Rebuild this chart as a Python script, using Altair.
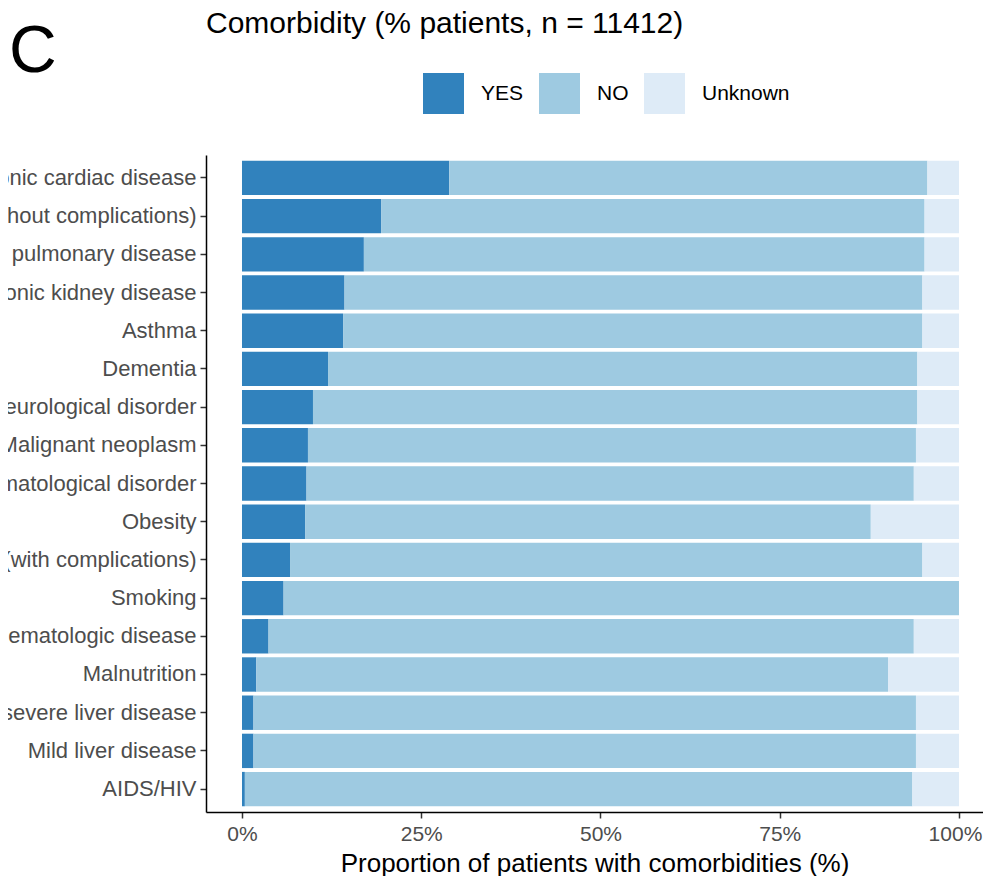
import altair as alt
import pandas as pd

categories = [
    "Chronic cardiac disease", "Diabetes (without complications)", "Chronic pulmonary disease",
    "Chronic kidney disease", "Asthma", "Dementia", "Chronic neurological disorder",
    "Malignant neoplasm", "Rheumatological disorder", "Obesity", "Diabetes (with complications)",
    "Smoking", "Chronic hematologic disease", "Malnutrition", "Moderate/severe liver disease",
    "Mild liver disease", "AIDS/HIV",
]
yes_pct = [28.9, 19.4, 17.0, 14.3, 14.1, 12.0, 9.9, 9.2, 9.0, 8.8, 6.7, 5.8, 3.7, 2.0, 1.6, 1.6, 0.4]
yes_no_cum = [95.6, 95.2, 95.2, 94.9, 94.9, 94.2, 94.2, 94.0, 93.7, 87.7, 94.9, 100.0, 93.7, 90.1, 94.0, 94.0, 93.5]
statuses = ["YES", "NO", "Unknown"]
colors = ["#3182bd", "#9ecae1", "#deebf7"]

rows = []
for c, y, cum in zip(categories, yes_pct, yes_no_cum):
    vals = [y, round(cum - y, 2), round(100 - cum, 2)]
    for i, (s, v) in enumerate(zip(statuses, vals)):
        rows.append({"Comorbidity": c, "Status": s, "Percent": v, "Order": i})
df = pd.DataFrame(rows)

FONT = "Liberation Sans"

bars = alt.Chart(df).mark_bar().encode(
    x=alt.X("Percent:Q", stack="zero",
            scale=alt.Scale(domain=[-5.02, 103.35], nice=False, zero=False),
            axis=alt.Axis(values=[0, 25, 50, 75, 100], labelExpr="datum.value + '%'",
                          title="Proportion of patients with comorbidities (%)",
                          grid=False, domainColor="black", domainWidth=1.5,
                          tickColor="#333333", tickWidth=1.5, tickSize=6,
                          labelFont=FONT, labelFontSize=21, labelColor="#4d4d4d",
                          labelOffset={"condition": {"test": "datum.value === 100", "value": -4},
                                       "value": 0},
                          labelPadding=5, titleFont=FONT, titleFontSize=26,
                          titleFontWeight="normal", titleColor="black", titlePadding=6)),
    y=alt.Y("Comorbidity:N", sort=categories,
            scale=alt.Scale(paddingInner=0.1, paddingOuter=0.15),
            axis=alt.Axis(title=None, grid=False, domainColor="black", domainWidth=1.5,
                          tickColor="#333333", tickWidth=1.5, tickSize=6,
                          labelFont=FONT, labelFontSize=22, labelColor="#4d4d4d",
                          labelPadding=4, labelLimit=0)),
    color=alt.Color("Status:N", sort=statuses,
                    scale=alt.Scale(domain=statuses, range=colors),
                    legend=alt.Legend(title=None, orient="none", legendX=217, legendY=-82,
                                      direction="horizontal", symbolType="square",
                                      symbolSize=1681, symbolStrokeWidth=0, symbolOpacity=1,
                                      labelFont=FONT, labelFontSize=21, labelColor="black",
                                      labelOffset=17, columnPadding=15, padding=0)),
    order=alt.Order("Order:Q"),
)

panel = alt.Chart(pd.DataFrame({"t": ["C"]})).mark_text(
    font=FONT, fontSize=66, align="left", baseline="alphabetic", color="black"
).encode(text="t:N", x=alt.value(-197), y=alt.value(-83))

chart = alt.layer(bars, panel).properties(
    width=777, height=657,
    background="white",
    autosize=alt.AutoSizeParams(type="none"),
    padding={"left": 198, "top": 147, "right": 0, "bottom": 64},
    title=alt.TitleParams("Comorbidity (% patients, n = 11412)", anchor="start", frame="group",
                          font=FONT, fontSize=30, fontWeight="normal", color="black",
                          offset=10, dy=30),
).configure_view(stroke="transparent", strokeWidth=0)

chart.save("out.html", embed_options={"renderer": "svg", "actions": False})
